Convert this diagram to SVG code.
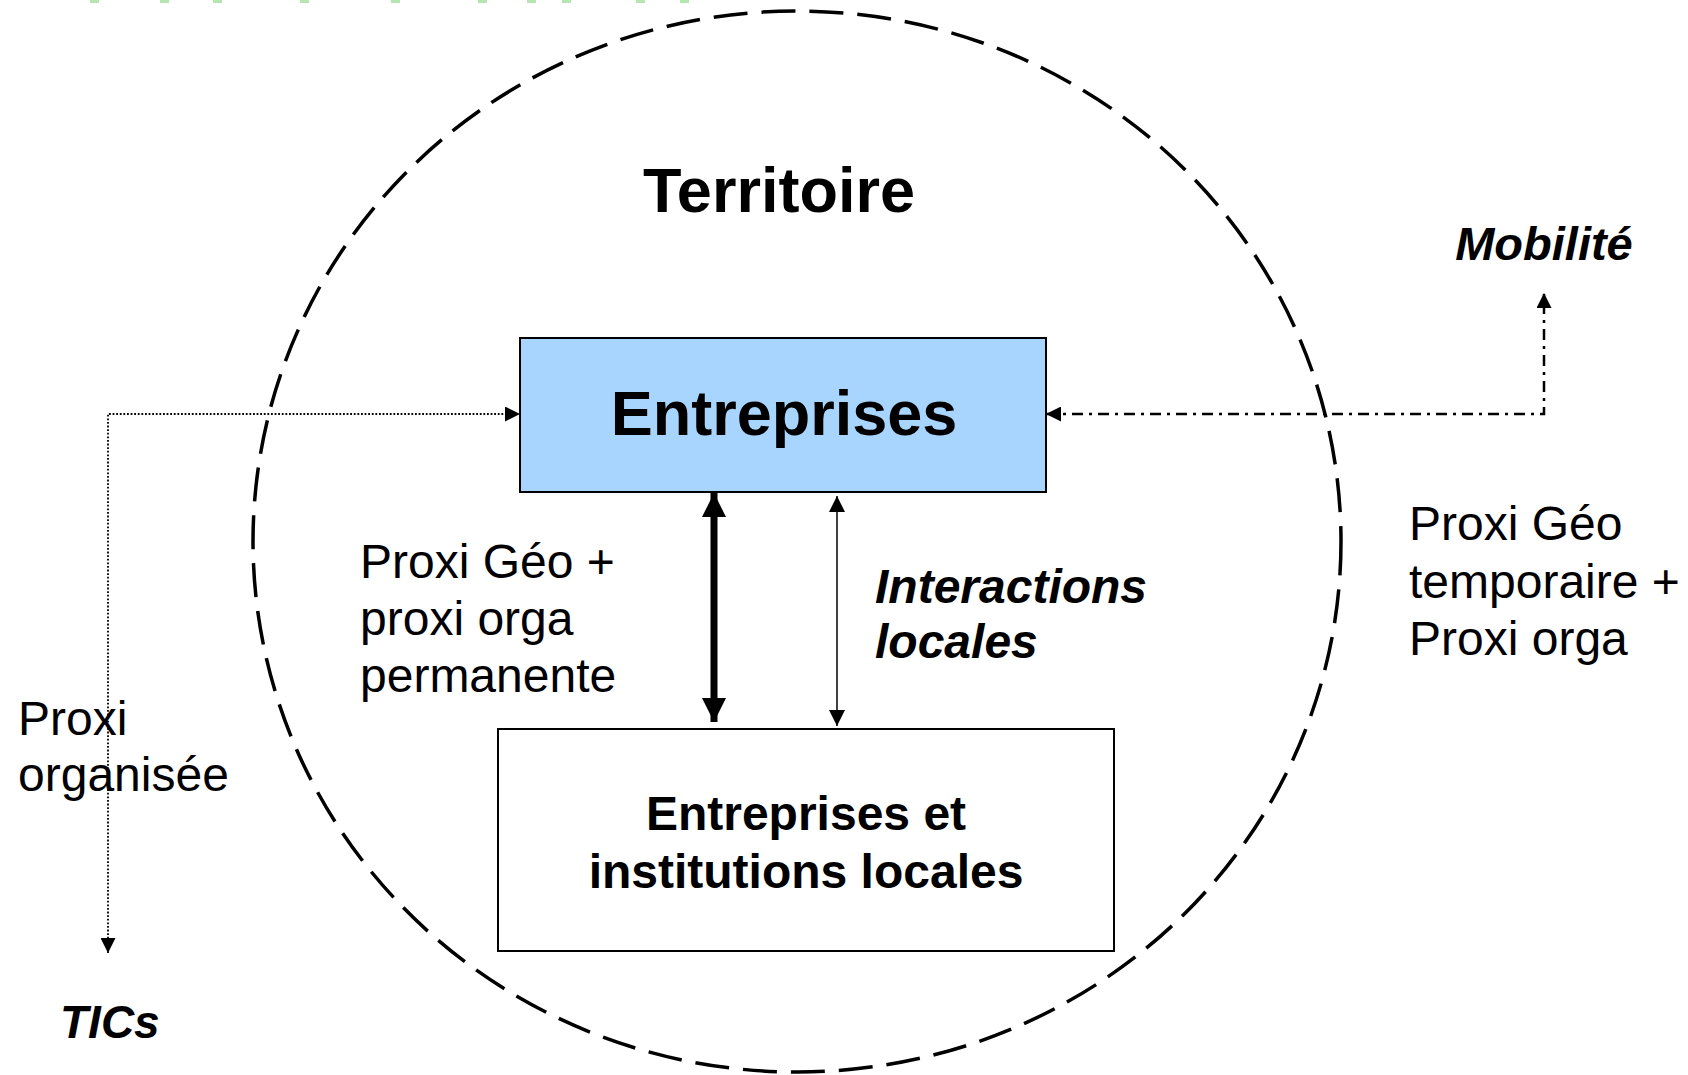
<svg xmlns="http://www.w3.org/2000/svg" width="1688" height="1075" viewBox="0 0 1688 1075">
<style>
text{font-family:"Liberation Sans",Arial,sans-serif;fill:#000}
.b{font-weight:bold}
.bi{font-weight:bold;font-style:italic}
.r{font-size:48px}
.box{stroke:#000;stroke-width:2}
</style>
<defs>
<marker id="hThick" viewBox="0 0 10 10" refX="10" refY="5" markerUnits="userSpaceOnUse" markerWidth="24" markerHeight="24" orient="auto-start-reverse"><path d="M0,0 L10,5 L0,10 Z" fill="#000"/></marker>
<marker id="hThin" viewBox="0 0 10 10" refX="10" refY="5" markerUnits="userSpaceOnUse" markerWidth="16" markerHeight="16" orient="auto-start-reverse"><path d="M0,0 L10,5 L0,10 Z" fill="#000"/></marker>
<marker id="hMid" viewBox="0 0 10 10" refX="10" refY="5" markerUnits="userSpaceOnUse" markerWidth="15" markerHeight="15" orient="auto-start-reverse"><path d="M0,0 L10,5 L0,10 Z" fill="#000"/></marker>
</defs>
<rect width="1688" height="1075" fill="#fff"/>
<g id="green-marks" fill="#b6e6b0">
<rect x="90" y="0" width="9" height="3"/><rect x="160" y="0" width="9" height="3"/><rect x="213" y="0" width="9" height="3"/><rect x="300" y="0" width="9" height="3"/><rect x="391" y="0" width="9" height="3"/><rect x="478" y="0" width="9" height="3"/><rect x="527" y="0" width="9" height="3"/><rect x="562" y="0" width="9" height="3"/><rect x="636" y="0" width="9" height="3"/><rect x="680" y="0" width="9" height="3"/>
</g>
<g id="territoire">
<ellipse cx="797" cy="541.5" rx="544" ry="530.5" fill="none" stroke="#000" stroke-width="3.5" stroke-dasharray="34 14"/>
<text class="b" x="779" y="212" font-size="63" text-anchor="middle">Territoire</text>
</g>
<g id="entreprises">
<rect class="box" x="520" y="338" width="526" height="154" fill="#a8d5fe"/>
<text class="b" x="784" y="435" font-size="63" text-anchor="middle">Entreprises</text>
</g>
<g id="institutions">
<rect class="box" x="498" y="729" width="616" height="222" fill="#fff"/>
<text class="b" x="806" y="830" font-size="48" text-anchor="middle">Entreprises et</text>
<text class="b" x="806" y="888" font-size="48" text-anchor="middle">institutions locales</text>
</g>
<g id="connectors" fill="none" stroke="#000">
<line x1="714" y1="493" x2="714" y2="722" stroke-width="7" marker-start="url(#hThick)" marker-end="url(#hThick)"/>
<line x1="837" y1="496" x2="837" y2="726" stroke-width="1.5" marker-start="url(#hThin)" marker-end="url(#hThin)"/>
<path d="M108,953 V414 H520" stroke-width="1.8" stroke-dasharray="1.8 1.8" marker-start="url(#hMid)" marker-end="url(#hMid)"/>
<path d="M1046,414 H1544 V293" stroke-width="2.5" stroke-dasharray="11 6 3 6" marker-start="url(#hMid)" marker-end="url(#hMid)"/>
</g>
<g id="labels">
<text class="r" x="360" y="578">Proxi Géo +</text>
<text class="r" x="360" y="635">proxi orga</text>
<text class="r" x="360" y="692">permanente</text>
<text class="bi" x="875" y="603" font-size="48">Interactions</text>
<text class="bi" x="875" y="658" font-size="48">locales</text>
<text class="r" x="1409" y="540">Proxi Géo</text>
<text class="r" x="1409" y="598">temporaire +</text>
<text class="r" x="1409" y="655">Proxi orga</text>
<text class="bi" x="1544" y="260" font-size="47" text-anchor="middle">Mobilité</text>
<text class="r" x="18" y="735">Proxi</text>
<text class="r" x="18" y="791">organisée</text>
<text class="bi" x="60" y="1038" font-size="46">TICs</text>
</g>
</svg>
